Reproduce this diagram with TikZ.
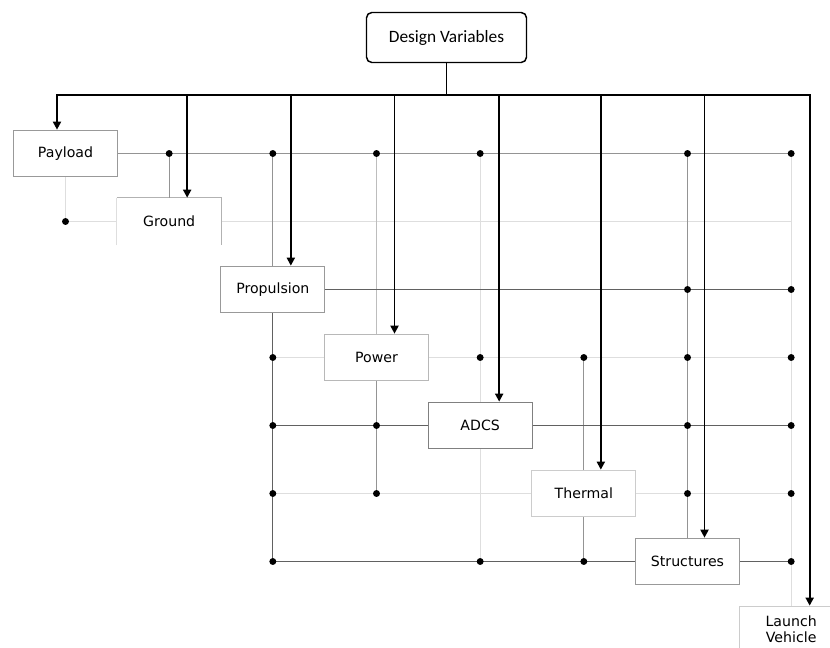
\documentclass[tikz,border=0pt]{standalone}
\usepackage{fontspec}
\newfontfamily\boxfont{DejaVu Sans}
\newfontfamily\titlefont{Carlito}
\usetikzlibrary{
    positioning, % Para posicionar as caixas de forma relativa
    arrows.meta  % Para as pontas de seta (Triangle)
}

\begin{document}
\begin{tikzpicture}[x=0.75pt, y=-0.75pt]

    % --- Estilos ---
    \tikzset{
        % Caixas das disciplinas
        discipline/.style={
            draw=black!40,
            line width=0.75pt,
            fill=white,
            minimum width=78pt,
            minimum height=35pt,
            inner sep=0pt,
            align=center,
            font=\boxfont\fontsize{10.6}{12}\selectfont
        },
        % Caixa das variáveis de projeto
        root/.style={
            draw,
            line width=1.1pt,
            rounded corners=4pt,
            minimum width=120pt,
            minimum height=37.5pt,
            font=\titlefont\fontsize{13}{15}\selectfont
        },
        % Setas das variáveis de projeto
        feed/.style={
            line width=1.4pt,
            -{Triangle[width=6pt,length=6pt]}
        },
        % Ligações entre disciplinas (do mais forte ao mais fraco)
        strong/.style={draw=black!62, line width=0.9pt},
        medium/.style={draw=black!42, line width=0.9pt},
        light/.style={draw=black!26, line width=0.9pt},
        weak/.style={draw=black!13, line width=0.9pt},
        junction/.style={fill=black}
    }

    \useasboundingbox (0,0) rectangle (830,648);

    % --- Caixas (a escada) ---
    \node[root] (dv) at (446.5,37.5) {Design Variables};

    \node[discipline] (payload) at (65.5,153.5) {Payload};
    \node[discipline, draw=none, below right=15.25pt and -1pt of payload] (ground) {Ground};
    \node[discipline, below right=15.25pt and -1pt of ground] (prop) {Propulsion};
    \node[discipline, draw=black!28, below right=15.25pt and -1pt of prop] (power) {Power};
    \node[discipline, draw=black!50, below right=15.25pt and -1pt of power] (adcs) {ADCS};
    \node[discipline, draw=black!20, below right=15.25pt and -1pt of adcs] (thermal) {Thermal};
    \node[discipline, below right=15.25pt and -1pt of thermal] (struct) {Structures};
    \node[discipline, draw=black!20, below right=15.25pt and -1pt of struct] (lv) {Launch\\Vehicle};

    % Contorno incompleto da caixa Ground
    \draw[black!13] (ground.south west) -- (ground.north west);
    \draw[black!30] (ground.north west) -- (ground.north east) -- (ground.south east);

    % --- Ligações entre disciplinas ---
    \draw[weak] (payload.south) -- (payload |- ground) -- (ground.west);
    \draw[weak] (ground.east) -- (lv |- ground);
    \draw[weak] (prop |- power) -- (power.west) (power.east) -- (lv |- power);
    \draw[weak] (prop |- thermal) -- (thermal.west) (thermal.east) -- (lv |- thermal);
    \draw[weak] (adcs |- payload) -- (adcs.north) (adcs.south) -- (adcs |- struct);
    \draw[weak] (lv |- payload) -- (lv.north);

    \draw[light] (power |- payload) -- (power.north);

    \draw[medium] (payload.east) -- (lv |- payload);
    \draw[medium] (ground |- payload) -- (ground.north);
    \draw[medium] (prop |- payload) -- (prop.north);
    \draw[medium] (power.south) -- (power |- thermal);
    \draw[medium] (thermal |- power) -- (thermal.north) (thermal.south) -- (thermal |- struct);
    \draw[medium] (struct |- payload) -- (struct.north);

    \draw[strong] (prop.east) -- (lv |- prop);
    \draw[strong] (prop.south) -- (prop |- struct);
    \draw[strong] (prop |- adcs) -- (adcs.west) (adcs.east) -- (lv |- adcs);
    \draw[strong] (prop |- struct) -- (struct.west) (struct.east) -- (lv |- struct);

    % Pontos de junção (coluna/linha)
    \foreach \c/\r in {payload/ground,
                       ground/payload, prop/payload, power/payload, adcs/payload, struct/payload, lv/payload,
                       struct/prop, lv/prop,
                       prop/power, adcs/power, thermal/power, struct/power, lv/power,
                       prop/adcs, power/adcs, struct/adcs, lv/adcs,
                       prop/thermal, power/thermal, struct/thermal, lv/thermal,
                       prop/struct, adcs/struct, thermal/struct, lv/struct}
        \fill[junction] (\c |- \r) circle (2.6pt);

    % --- Setas das variáveis de projeto ---
    \coordinate (bus) at ([yshift=-24pt]dv.south);
    \foreach \b/\dx in {payload/-8.5, ground/18, prop/18, power/18, adcs/19, thermal/17, struct/17, lv/18.5}
        \coordinate (\b-in) at ([xshift={\dx*0.75pt}]\b.north);

    \draw[line width=1.1pt] (dv.south) -- (bus);
    \draw[line width=1.4pt, line cap=rect] (payload-in |- bus) -- (lv-in |- bus);
    \foreach \b in {payload, ground, prop, power, adcs, thermal, struct, lv}
        \draw[feed] (\b-in |- bus) -- (\b-in);

\end{tikzpicture}
\end{document}
